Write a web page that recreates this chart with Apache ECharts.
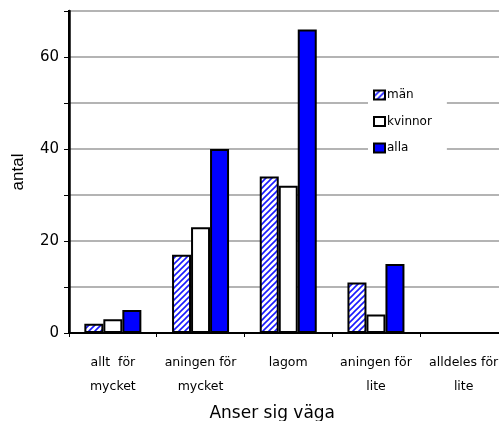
<!DOCTYPE html>
<html>
<head>
<meta charset="utf-8">
<script src="https://cdn.jsdelivr.net/npm/echarts@6/dist/echarts.min.js"></script>
<style>
  html, body { margin: 0; padding: 0; background: #fff; }
  #chart { width: 499px; height: 421px; }
</style>
</head>
<body>
<div id="chart"></div>
<script>
// Svar på frågan "Anser sig väga" – antal per kön
const categories = ['allt  för\nmycket', 'aningen för\nmycket', 'lagom', 'aningen för\nlite', 'alldeles för\nlite'];
const man = [2, 17, 34, 11, 0];
const kvinnor = [3, 23, 32, 4, 0];
const alla = [5, 40, 66, 15, 0];
const yTicks = [0, 20, 40, 60];

// Diagonal blue hatching for the "män" series
function hatch() {
  const c = document.createElement('canvas');
  c.width = 6; c.height = 6;
  const g = c.getContext('2d');
  g.fillStyle = '#fff';
  g.fillRect(0, 0, 6, 6);
  g.strokeStyle = '#1a1aff';
  g.lineWidth = 1.6;
  g.beginPath();
  g.moveTo(-1, 7); g.lineTo(7, -1);
  g.moveTo(-4, 4); g.lineTo(4, -4);
  g.moveTo(2, 10); g.lineTo(10, 2);
  g.stroke();
  return c;
}

const chart = echarts.init(document.getElementById('chart'), null, { renderer: 'canvas' });
const border = { borderColor: '#000', borderWidth: 2 };

chart.setOption({
  animation: false,
  grid: {
    left: 69, top: 11, width: 438.5, height: 322,
    outerBoundsMode: 'none', containLabel: false,
    show: true, borderColor: '#000', borderWidth: 2, backgroundColor: 'transparent'
  },
  legend: {
    orient: 'vertical',
    left: 368,
    top: 79,
    itemWidth: 11,
    itemHeight: 9,
    itemGap: 14.5,
    icon: 'rect',
    backgroundColor: '#fff',
    padding: [10, 15, 10, 5],
    itemStyle: { borderColor: '#000', borderWidth: 2 },
    textStyle: { fontFamily: 'DejaVu Sans', fontSize: 12, lineHeight: 12, color: '#000', padding: [0, 0, 0, -3] },
    data: ['män', 'kvinnor', 'alla']
  },
  xAxis: {
    type: 'category',
    data: categories,
    name: 'Anser sig väga',
    nameLocation: 'middle',
    nameGap: 72,
    nameTextStyle: { fontFamily: 'DejaVu Sans', fontSize: 17, color: '#000', padding: [0, 32, 0, 0] },
    axisLine: { lineStyle: { color: '#000', width: 2 } },
    axisTick: { show: true, length: 4, lineStyle: { color: '#000', width: 1 } },
    axisLabel: { fontFamily: 'DejaVu Sans', fontSize: 12.5, color: '#000', lineHeight: 24, margin: 18, interval: 0 }
  },
  yAxis: {
    type: 'value',
    min: 0,
    max: 70,
    interval: 10,
    name: 'antal',
    nameLocation: 'middle',
    nameGap: 42,
    nameRotate: 90,
    nameTextStyle: { fontFamily: 'Liberation Sans', fontSize: 17, color: '#000' },
    axisLine: { show: true, lineStyle: { color: '#000', width: 2.5 } },
    axisTick: { show: true, length: 5, lineStyle: { color: '#000', width: 1 } },
    axisLabel: {
      fontFamily: 'DejaVu Sans', fontSize: 15, color: '#000', margin: 10,
      formatter: v => (yTicks.indexOf(v) >= 0 ? String(v) : '')
    },
    splitLine: { show: true, lineStyle: { color: '#b4b4b4', width: 2 } }
  },
  series: [
    { name: 'män', type: 'bar', data: man, barWidth: 19, barGap: '0%',
      itemStyle: Object.assign({ color: { image: hatch(), repeat: 'repeat' } }, border) },
    { name: 'kvinnor', type: 'bar', data: kvinnor, barWidth: 19, barGap: '0%',
      itemStyle: Object.assign({ color: '#fff' }, border) },
    { name: 'alla', type: 'bar', data: alla, barWidth: 19, barGap: '0%',
      itemStyle: Object.assign({ color: '#0000ff' }, border) }
  ]
});
</script>
</body>
</html>
